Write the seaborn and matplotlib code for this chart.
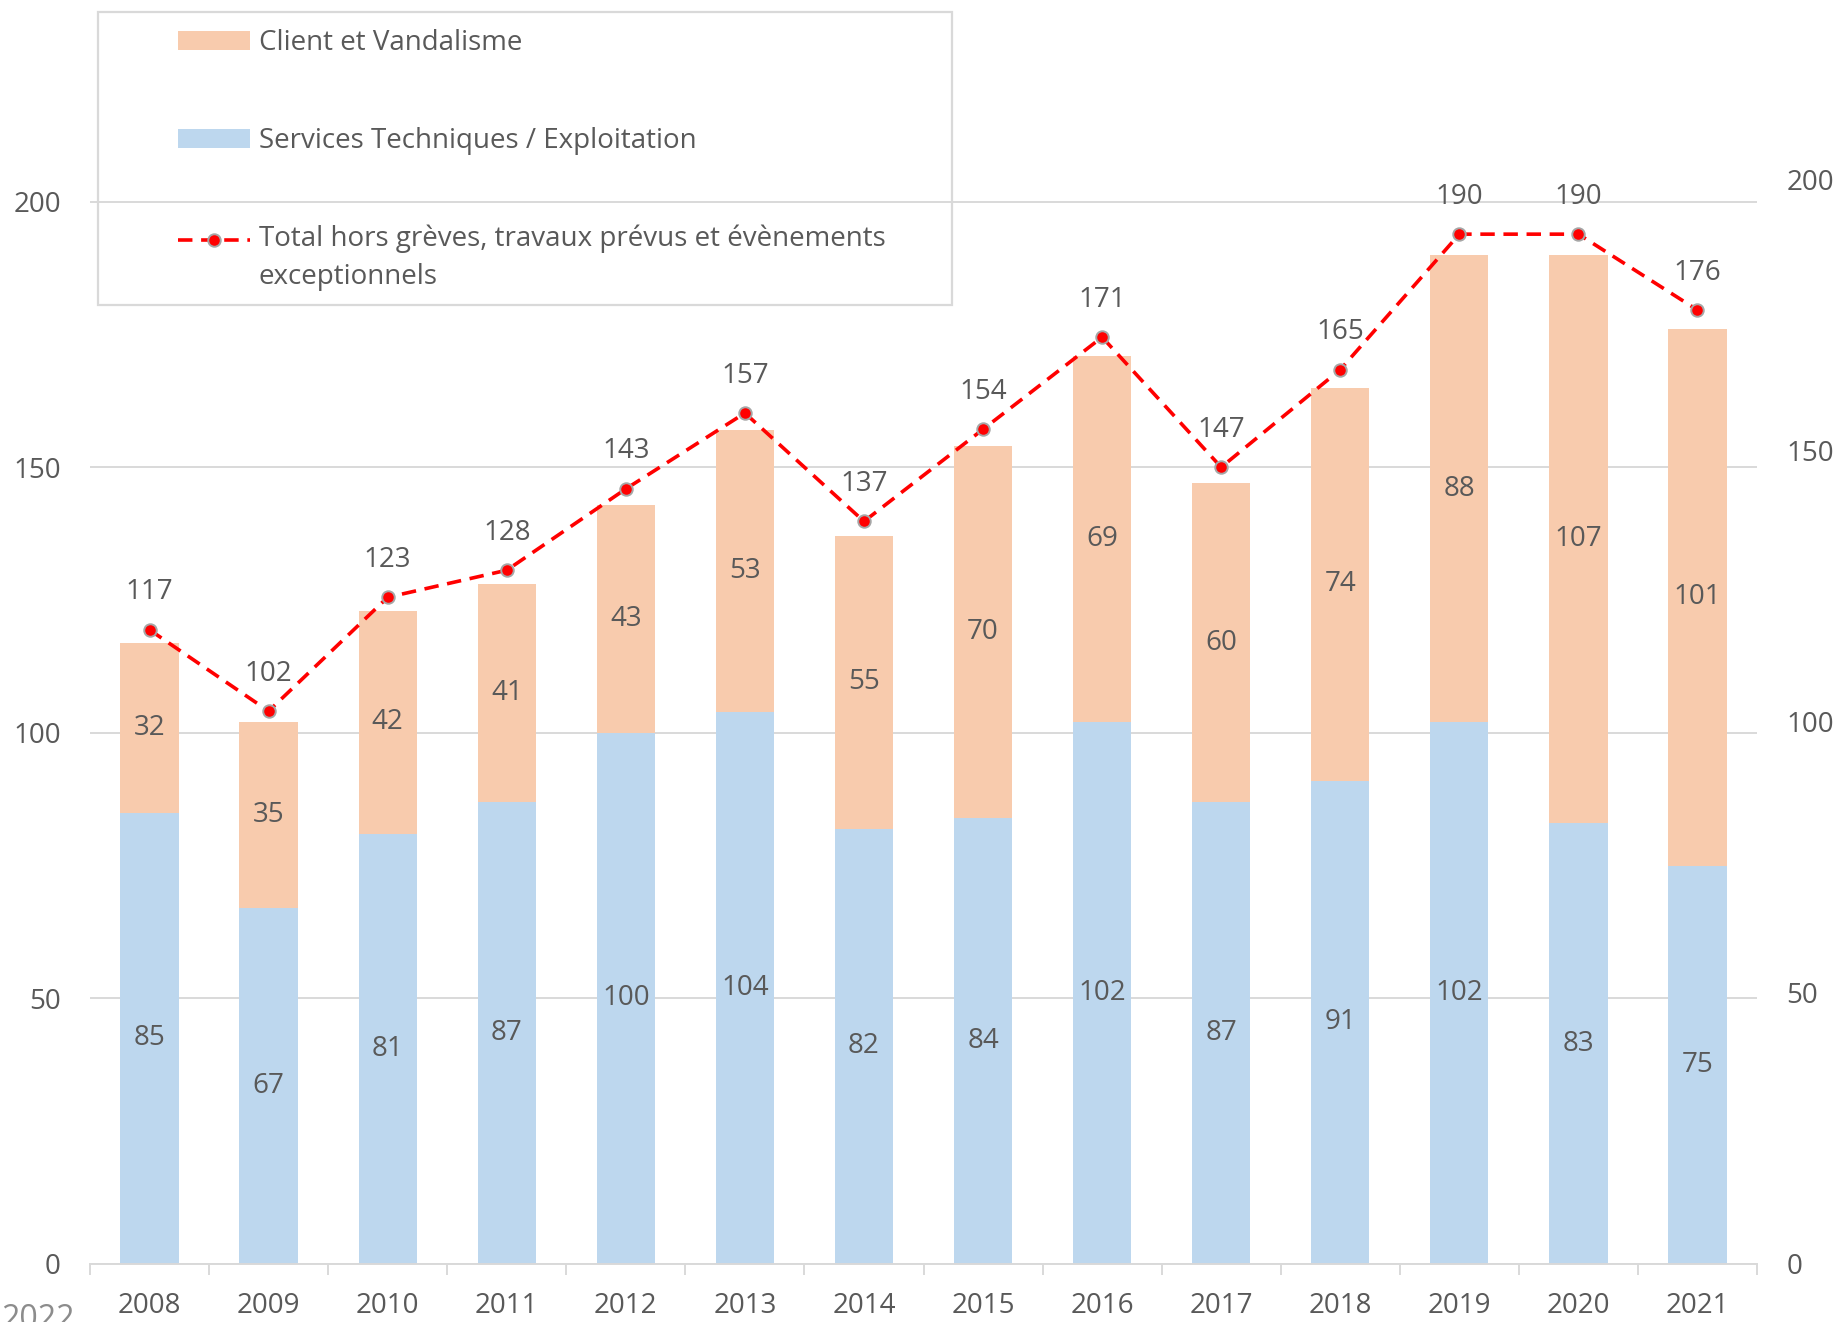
import numpy as np
import pandas as pd
import matplotlib
matplotlib.use("Agg")
import matplotlib.pyplot as plt
import seaborn as sns
from matplotlib.patches import Patch, Rectangle
from matplotlib.lines import Line2D
from matplotlib.legend_handler import HandlerLine2D

# ---- data ----
years = ["2008", "2009", "2010", "2011", "2012", "2013", "2014",
         "2015", "2016", "2017", "2018", "2019", "2020", "2021"]
services = [85, 67, 81, 87, 100, 104, 82, 84, 102, 87, 91, 102, 83, 75]
client = [32, 35, 42, 41, 43, 53, 55, 70, 69, 60, 74, 88, 107, 101]
totals = [117, 102, 123, 128, 143, 157, 137, 154, 171, 147, 165, 190, 190, 176]
left_ticks = [0, 50, 100, 150, 200]
right_ticks = [0, 50, 100, 150, 200]
legend_labels = ["Client et Vandalisme",
                 "Services Techniques / Exploitation",
                 "Total hors grèves, travaux prévus et évènements\nexceptionnels"]

ORANGE = "#F8CBAD"
BLUE = "#BDD7EE"
GREY_TXT = "#595959"
GRID = "#D9D9D9"
FS = 20

sns.set_theme(style="white")
plt.rcParams["font.family"] = ["Open Sans", "DejaVu Sans"]

W, H = 1838, 1322
fig = plt.figure(figsize=(W / 100, H / 100), dpi=100)
ax = fig.add_axes([90 / W, 1 - 1264 / H, (1757 - 90) / W, 1264 / H])

df = pd.DataFrame({"year": years, "services": services, "client": client,
                   "stack": [s + c for s, c in zip(services, client)],
                   "total": totals})

sns.barplot(data=df, x="year", y="stack", color=ORANGE, saturation=1,
            width=0.49, errorbar=None, linewidth=0, ax=ax)
sns.barplot(data=df, x="year", y="services", color=BLUE, saturation=1,
            width=0.49, errorbar=None, linewidth=0, ax=ax)

ax.set_xlim(-0.5, len(years) - 0.5)
ax.set_ylim(0, 238)
ax.set_yticks(left_ticks)
ax.yaxis.grid(True, color=GRID, lw=1.4)
ax.xaxis.grid(False)
ax.set_axisbelow(True)
ax.set_xlabel("")
ax.set_ylabel("")
for s in ["top", "left", "right"]:
    ax.spines[s].set_visible(False)
ax.spines["bottom"].set_color(GRID)
ax.spines["bottom"].set_linewidth(1.4)
ax.set_xticks(np.arange(-0.5, len(years), 1.0), minor=True)
ax.tick_params(axis="x", which="major", length=0, pad=20, labelsize=FS,
               labelcolor=GREY_TXT)
ax.tick_params(axis="x", which="minor", length=8, width=1.4, color=GRID,
               direction="out", bottom=True)
ax.tick_params(axis="y", length=0, pad=21, labelsize=FS, labelcolor=GREY_TXT)

for i in range(len(years)):
    ax.text(i, services[i] / 2, str(services[i]), ha="center", va="center",
            fontsize=FS, color=GREY_TXT)
    ax.text(i, services[i] + client[i] / 2, str(client[i]), ha="center",
            va="center", fontsize=FS, color=GREY_TXT)

# ---- secondary axis with the total line ----
ax2 = ax.twinx()
sns.pointplot(data=df, x="year", y="total", color="red", markers="o",
              linestyles="--", errorbar=None, ax=ax2,
              markersize=9, markeredgecolor="#A6A6A6", markeredgewidth=1.4,
              linewidth=2.6)
for ln in ax2.lines:
    ln.set_dashes((4, 2.4))
ax2.set_xlim(-0.5, len(years) - 0.5)
ax2.set_ylim(0, 233.2)
ax2.set_yticks(right_ticks)
ax2.grid(False)
ax2.set_ylabel("")
ax2.set_xlabel("")
for s in ["top", "left", "right", "bottom"]:
    ax2.spines[s].set_visible(False)
ax2.tick_params(axis="y", length=0, pad=21, labelsize=FS, labelcolor=GREY_TXT)
for i, t in enumerate(totals):
    ax2.annotate(str(t), (i, t), xytext=(0, 27), textcoords="offset points",
                 ha="center", va="center", fontsize=FS, color=GREY_TXT)


# ---- legend ----
class FirstLineHandler(HandlerLine2D):
    """Align the line handle with the first line of a two-line label."""
    def create_artists(self, legend, orig_handle, xdescent, ydescent,
                       width, height, fontsize, trans):
        arts = super().create_artists(legend, orig_handle, xdescent, ydescent,
                                      width, height, fontsize, trans)
        for a in arts:
            a.set_ydata(np.asarray(a.get_ydata()) + 0.7 * fontsize)
        return arts


line_handle = Line2D([], [], color="red", ls=(0, (4, 2.4)), lw=2.6,
                     marker="o", markersize=9, markerfacecolor="red",
                     markeredgecolor="#A6A6A6", markeredgewidth=1.4)
handles = [Patch(facecolor=ORANGE, edgecolor="none"),
           Patch(facecolor=BLUE, edgecolor="none"),
           line_handle]
leg = fig.legend(handles, legend_labels, loc="upper left",
                 bbox_to_anchor=(178 / W, 1 - 29 / H), frameon=False,
                 borderpad=0, borderaxespad=0, labelspacing=2.52,
                 handlelength=2.6, handleheight=0.65, handletextpad=0.3,
                 fontsize=FS, labelcolor=GREY_TXT,
                 handler_map={line_handle: FirstLineHandler()})
for t in leg.get_texts():
    t.set_linespacing(1.45)
fig.patches.append(Rectangle((98 / W, 1 - 305 / H), (952 - 98) / W,
                             (305 - 12) / H, transform=fig.transFigure,
                             fill=False, edgecolor=GRID, linewidth=1.6))

fig.text(1 / W, 1 - 1303 / H, "2022", ha="left", va="top", fontsize=23,
         color="#8C8C8C")

fig.savefig("out.png", dpi=100)
